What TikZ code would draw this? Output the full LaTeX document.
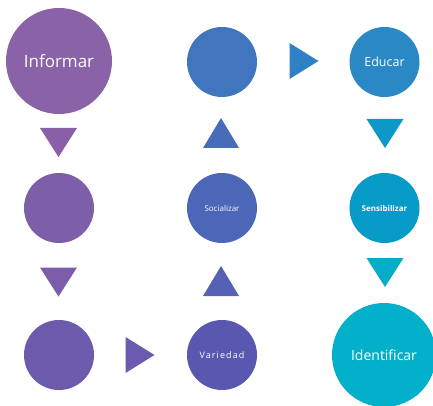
\documentclass[tikz,border=0pt]{standalone}
\usepackage{fontspec}
\setsansfont{Open Sans}
\definecolor{cInformar}{HTML}{8A62A8}
\definecolor{cLeftB}{HTML}{7D5FA9}
\definecolor{cLeftC}{HTML}{6C5BAD}
\definecolor{cVariedad}{HTML}{5A57B0}
\definecolor{cSocial}{HTML}{4C66B8}
\definecolor{cMidA}{HTML}{3F76BD}
\definecolor{cEducar}{HTML}{2A88C4}
\definecolor{cSensib}{HTML}{069BC6}
\definecolor{cIdent}{HTML}{03B0C9}
\definecolor{tA}{HTML}{8A5FA8}
\definecolor{tB}{HTML}{7D5CA9}
\definecolor{tC}{HTML}{6A5AB0}
\definecolor{tD}{HTML}{5660B5}
\definecolor{tE}{HTML}{476CBA}
\definecolor{tF}{HTML}{2F80C4}
\definecolor{tG}{HTML}{0C98C8}
\definecolor{tH}{HTML}{04ACCA}
\begin{document}
\begin{tikzpicture}
[ x=1pt, y=-1pt
, stage/.style={circle, inner sep=0pt, minimum size=70pt, text=white, font=\sffamily\fontsize{8}{9}\selectfont}
, bigstage/.style={stage, minimum size=106pt, font=\sffamily\fontsize{17}{19}\selectfont}
, tridown/.pic={\fill (-18.5,-14.5) -- (18.5,-14.5) -- (0,14.5) -- cycle;}
, triup/.pic={\fill (-18,15) -- (18,15) -- (0,-15) -- cycle;}
, triright/.pic={\fill (-14.5,-18) -- (14.5,0) -- (-14.5,18) -- cycle;}
]
\useasboundingbox (0,0) rectangle (433,406);
% First row:
\node (informar) [bigstage, fill=cInformar] at (59,61) {Informar};
\node (midtop) [stage, fill=cMidA] at (222,62) {};
\pic (arrtop) [fill=tF] at (304,61) {triright};
\node (educar) [stage, fill=cEducar, font=\sffamily\fontsize{12.5}{14}\selectfont] at (384.5,62) {Educar};
% Between first and second row:
\pic (arrla) [fill=tA] at (58.5,142.5) {tridown};
\pic (arrma) [fill=tE] at (221,133) {triup};
\pic (arrra) [fill=tG] at (385,133.5) {tridown};
% Second row:
\node (leftmid) [stage, fill=cLeftB] at (59,208) {};
\node (socializar) [stage, fill=cSocial] at (222,208) {Socializar};
\node (sensibilizar) [stage, fill=cSensib, font=\sffamily\bfseries\fontsize{8}{9}\selectfont] at (384.5,208) {Sensibilizar};
% Between second and third row:
\pic (arrlb) [fill=tB] at (58.5,282) {tridown};
\pic (arrmb) [fill=tD] at (221,281) {triup};
\pic (arrrb) [fill=tH] at (385,272.5) {tridown};
% Third row:
\node (leftlow) [stage, fill=cLeftC] at (59,355) {};
\pic (arrlow) [fill=tC] at (140,355) {triright};
\node (variedad) [stage, fill=cVariedad, font=\sffamily\fontsize{9}{10}\selectfont\addfontfeature{LetterSpace=12}] at (222,355) {Variedad};
\node (identificar) [bigstage, fill=cIdent, minimum size=104pt, font=\sffamily\fontsize{14}{16}\selectfont] at (384,355) {Identificar};
\end{tikzpicture}
\end{document}
